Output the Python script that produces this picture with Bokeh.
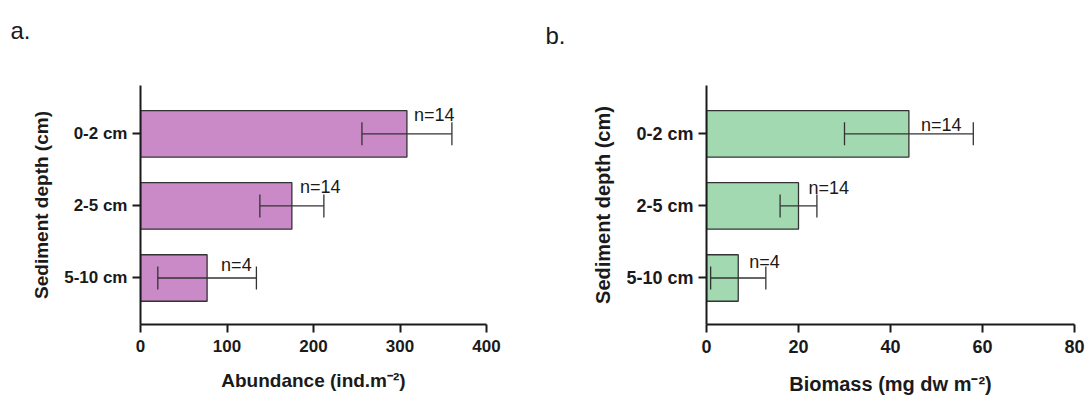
from bokeh.plotting import figure
from bokeh.models import (Range1d, FixedTicker, Whisker, TeeHead, ColumnDataSource, Label)
from bokeh.layouts import row, column
from bokeh.core.properties import value
from bokeh.embed import file_html
from bokeh.resources import INLINE

# Sediment depth layers (top to bottom)
depths = ["0-2 cm", "2-5 cm", "5-10 cm"]
sample_counts = [14, 14, 4]

# Macrofauna abundance (ind. m-2): mean and error
abundance_mean = [308, 175, 77]
abundance_err = [52, 37, 57]

# Macrofauna biomass (mg dw m-2): mean and error
biomass_mean = [44, 20, 6.9]
biomass_err = [14, 4, 6]

abundance_ticks = [0, 100, 200, 300, 400]
biomass_ticks = [0, 20, 40, 60, 80]

panel_letters = ["a.", "b."]

FONT = "Liberation Sans"
INK = "#1a1a1a"
PAGE_W, PAGE_H = 1089, 397
STRIP_H = 50          # band across the top holding the panel letters
FRAME_TOP = 85        # top of the plotting frames, from the page top


def make_panel(means, errs, ticks, xlabel, fill, width, border_left, border_right,
               tick_size, title_size, n_offsets, xlabel_standoff):
    pos = list(range(len(depths)))
    src = ColumnDataSource(dict(
        pos=pos,
        val=means,
        lo=[m - e for m, e in zip(means, errs)],
        hi=[m + e for m, e in zip(means, errs)],
    ))
    p = figure(width=width, height=PAGE_H - STRIP_H, output_backend="svg",
               toolbar_location=None,
               x_range=Range1d(ticks[0], ticks[-1]),
               y_range=Range1d(len(depths) - 1 + 0.645, -0.67),
               min_border_left=border_left, min_border_right=border_right,
               min_border_top=FRAME_TOP - STRIP_H, min_border_bottom=70)
    p.outline_line_color = None
    p.grid.visible = False
    p.background_fill_color = "white"
    p.border_fill_color = "white"

    p.hbar(y="pos", left=0, right="val", height=0.645, source=src,
           fill_color=fill, line_color="#333333", line_width=1.3)

    head = dict(size=23, line_color="#333333", line_width=1.3)
    p.add_layout(Whisker(source=src, base="pos", lower="lo", upper="hi",
                         dimension="width", line_color="#333333", line_width=1.3,
                         level="annotation",
                         lower_head=TeeHead(**head), upper_head=TeeHead(**head)))

    for i, (m, n) in enumerate(zip(means, sample_counts)):
        dx, dy = n_offsets[i]
        p.add_layout(Label(x=m, y=i, text=f"n={n}", x_offset=dx, y_offset=dy,
                           text_font=FONT, text_font_size="18px", text_color=INK,
                           text_baseline="alphabetic", text_align="left"))

    # x axis
    xa = p.xaxis[0]
    xa.ticker = FixedTicker(ticks=ticks)
    xa.axis_label = xlabel
    xa.minor_tick_line_color = None
    xa.major_tick_in = 0
    xa.major_tick_out = 8
    # y axis
    ya = p.yaxis[0]
    ya.ticker = FixedTicker(ticks=pos)
    ya.major_label_overrides = {i: d for i, d in enumerate(depths)}
    ya.axis_label = "Sediment depth (cm)"
    ya.minor_tick_line_color = None
    ya.major_tick_in = 0
    ya.major_tick_out = 8
    for ax in (xa, ya):
        ax.axis_line_width = 2
        ax.axis_line_color = INK
        ax.major_tick_line_width = 2
        ax.major_tick_line_color = INK
        ax.major_label_text_font = FONT
        ax.major_label_text_font_style = "bold"
        ax.major_label_text_font_size = tick_size
        ax.major_label_text_color = INK
        ax.axis_label_text_font = FONT
        ax.axis_label_text_font_style = "bold"
        ax.axis_label_text_font_size = title_size
        ax.axis_label_text_color = INK
    xa.major_label_standoff = 7
    xa.axis_label_standoff = xlabel_standoff
    ya.major_label_standoff = 5
    ya.axis_label_standoff = 9
    return p


pa = make_panel(abundance_mean, abundance_err, abundance_ticks,
                "Abundance (ind.m\u207b\u00b2)", "#c98ac7", 560, 140, 74,
                "17px", "19px", [(7, 19), (8, 19), (14, 13)], 15)
pb = make_panel(biomass_mean, biomass_err, biomass_ticks,
                "Biomass (mg dw m\u207b\u00b2)", "#a2d9b1", PAGE_W - 560, 146, 15,
                "18px", "20px", [(12, 9), (10, 18), (11, 16)], 17)

# top band with the panel letters; its frame fills the band, measured in pixels
strip = figure(width=PAGE_W, height=STRIP_H, output_backend="svg", toolbar_location=None,
               x_range=Range1d(0, PAGE_W), y_range=Range1d(STRIP_H, 0),
               x_axis_type=None, y_axis_type=None,
               min_border=0, min_border_left=0, min_border_right=0,
               min_border_top=0, min_border_bottom=0)
strip.outline_line_color = None
strip.grid.visible = False
strip.text(x=[10, 545], y=[30, 35], text=panel_letters,
           text_font=value(FONT), text_font_size="24px", text_color=INK,
           text_baseline="alphabetic", text_align="left")

layout = column(strip, row(pa, pb))
open("out.html", "w").write(file_html(layout, INLINE))
